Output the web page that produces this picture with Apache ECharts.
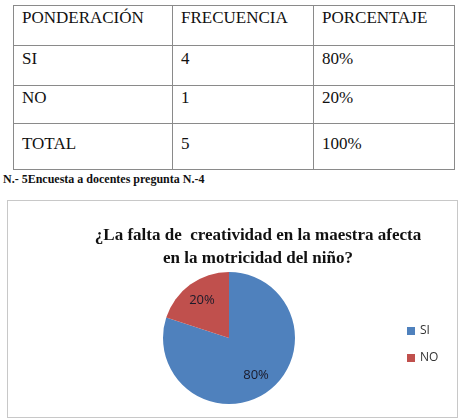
<!DOCTYPE html>
<html>
<head>
<meta charset="utf-8">
<script src="https://cdn.jsdelivr.net/npm/echarts@6/dist/echarts.min.js"></script>
<style>
  html, body { margin: 0; padding: 0; background: #fff; width: 459px; height: 420px; overflow: hidden; }
  .cell {
    position: absolute; box-sizing: border-box; border: 1px solid #8a8a8a;
    padding-left: 8px; font-family: 'Liberation Serif', serif; font-size: 17px; line-height: 20px; color: #111;
  }
  #caption { position: absolute; left: 3px; top: 172px; font-family: 'Liberation Serif', serif; font-weight: bold; font-size: 12px; color: #111; }
  #chart { position: absolute; left: 7px; top: 200px; width: 449px; height: 216px; border: 1px solid #c8c8c8; }
</style>
</head>
<body>
<div id="tabla"></div>
<div id="caption"></div>
<div id="chart"></div>
<script>
  // table data
  const headers = ['PONDERACIÓN', 'FRECUENCIA', 'PORCENTAJE'];
  const rowLabels = ['SI', 'NO', 'TOTAL'];
  const frecuencias = [4, 1, 5];
  const porcentajes = ['80%', '20%', '100%'];
  const captionText = 'N.- 5Encuesta a docentes pregunta N.-4';

  // chart data
  const categories = ['SI', 'NO'];
  const values = [80, 20];
  const colors = ['#4F81BD', '#C0504D'];
  const chartTitle = '¿La falta de  creatividad en la maestra afecta\nen la motricidad del niño?';

  // table grid lines (px)
  const colEdges = [13, 172, 313, 454];
  const rowEdges = [5, 45, 85, 123, 169];
  const rowPadTop = [2, 3, 2, 10];

  const table = document.getElementById('tabla');
  const rows = [headers].concat(rowLabels.map((label, i) => [label, String(frecuencias[i]), porcentajes[i]]));
  rows.forEach((row, r) => {
    row.forEach((cell, c) => {
      const div = document.createElement('div');
      div.className = 'cell';
      div.style.left = colEdges[c] + 'px';
      div.style.top = rowEdges[r] + 'px';
      div.style.width = (colEdges[c + 1] - colEdges[c] + 1) + 'px';
      div.style.height = (rowEdges[r + 1] - rowEdges[r] + 1) + 'px';
      div.style.paddingTop = rowPadTop[r] + 'px';
      div.textContent = cell;
      table.appendChild(div);
    });
  });
  document.getElementById('caption').textContent = captionText;

  const chart = echarts.init(document.getElementById('chart'), null, { renderer: 'canvas' });
  const pieData = categories.map((name, i) => ({ name, value: values[i], itemStyle: { color: colors[i] } }));

  chart.setOption({
    animation: false,
    title: {
      text: chartTitle,
      left: 245,
      top: 18,
      textAlign: 'center',
      textStyle: {
        fontFamily: 'Liberation Serif',
        fontWeight: 'bold',
        fontSize: 17,
        lineHeight: 23,
        color: '#111',
      },
    },
    legend: {
      orient: 'vertical',
      left: 394,
      top: 119,
      itemWidth: 8,
      itemHeight: 8,
      itemGap: 15,
      icon: 'rect',
      textStyle: { fontFamily: 'Open Sans', fontSize: 12, color: '#333' },
      data: categories,
    },
    series: [
      {
        type: 'pie',
        center: [221, 137],
        radius: [0, 66],
        startAngle: 90,
        clockwise: true,
        silent: true,
        label: { show: false },
        labelLine: { show: false },
        data: pieData,
      },
      {
        // transparent ring only to place the labels further out
        type: 'pie',
        center: [221, 137],
        radius: [20, 66],
        startAngle: 90,
        clockwise: true,
        silent: true,
        legendHoverLink: false,
        itemStyle: { color: 'rgba(0,0,0,0)' },
        label: {
          show: true,
          position: 'inside',
          formatter: (p) => p.value + '%',
          fontFamily: 'Open Sans',
          fontSize: 13,
          color: '#1a1a2a',
        },
        labelLine: { show: false },
        data: categories.map((name, i) => ({ name: name + ' ', value: values[i] })),
      },
    ],
  });
</script>
</body>
</html>
